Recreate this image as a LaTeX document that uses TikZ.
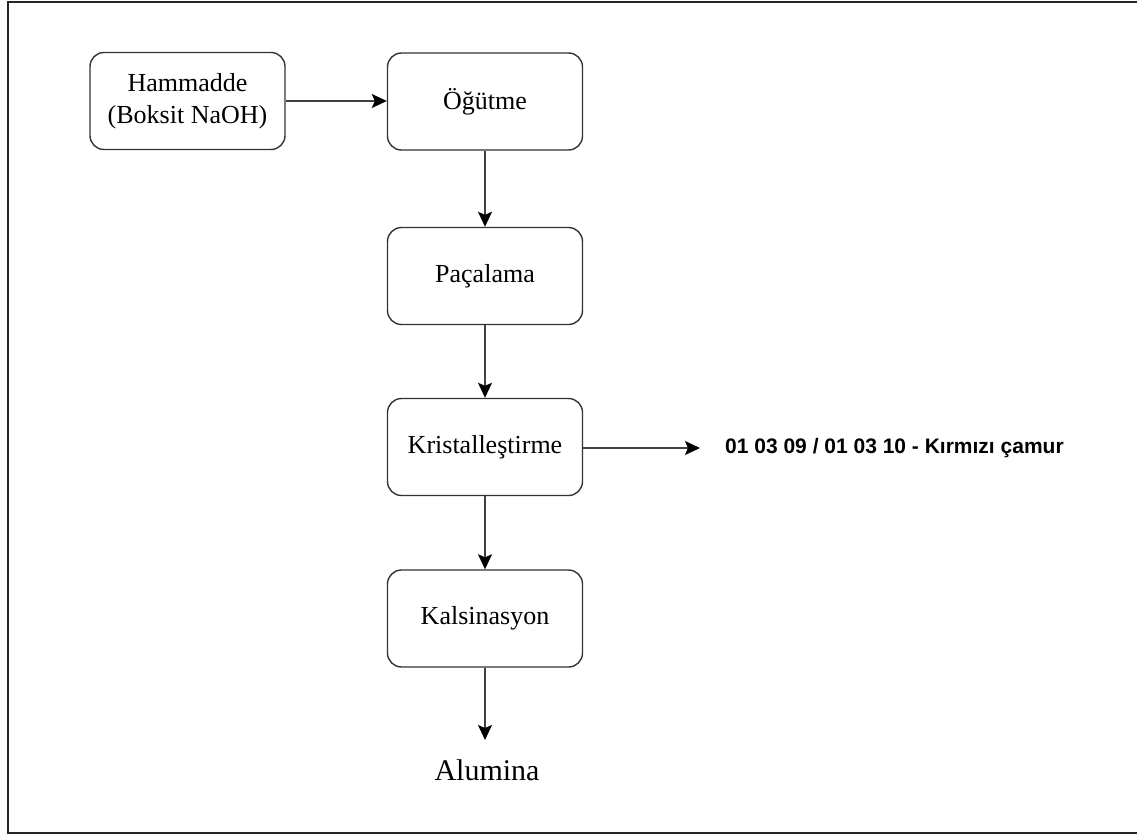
\documentclass[tikz,border=0pt]{standalone}
\usepackage{fontspec}
\setmainfont{Liberation Serif}
\newfontfamily\arialf{Liberation Sans}
\usetikzlibrary{arrows.meta}
\begin{document}
\begin{tikzpicture}[x=1pt,y=-1pt,
  procbox/.style={draw=black!80, line width=1.4pt, rounded corners=14pt,
    minimum width=195pt, minimum height=97pt, inner sep=0pt, align=center,
    font=\fontsize{26}{32}\selectfont},
  flow/.style={draw=black!75, line width=1.4pt, -{Stealth[length=15pt,width=14pt,inset=3pt,color=black]}},
]
\useasboundingbox (0,0) rectangle (1137,835);
\draw[line width=2pt, black!85] (1140,1.5) -- (7.5,1.5) -- (7.5,833) -- (1140,833);
\node[procbox] (ham) at (187.5,101) {Hammadde\\(Boksit NaOH)};
\node[procbox] (ogut) at (485,101.5) {Öğütme};
\node[procbox] (pac) at (485,276) {Paçalama};
\node[procbox] (kris) at (485,447) {Kristalleştirme};
\node[procbox] (kal) at (485,618.5) {Kalsinasyon};
\node[font=\fontsize{30}{36}\selectfont, inner sep=0pt] (alu) at (487,770) {Alumina};
\node[font=\arialf\bfseries\fontsize{21}{25}\selectfont, anchor=west, inner sep=0pt] (mud) at (725,448) {01 03 09 / 01 03 10 - Kırmızı çamur};
\coordinate (mudend) at (700,448);
\coordinate (aluend) at (485,740);
\draw[flow] (ham.east |- 0,101) -- (ogut.west |- 0,101);
\draw[flow] (ogut) -- (pac);
\draw[flow] (pac) -- (kris);
\draw[flow] (kris) -- (kal);
\draw[flow] (kal.south) -- (aluend);
\draw[flow] (kris.east |- mudend) -- (mudend);
\end{tikzpicture}
\end{document}
